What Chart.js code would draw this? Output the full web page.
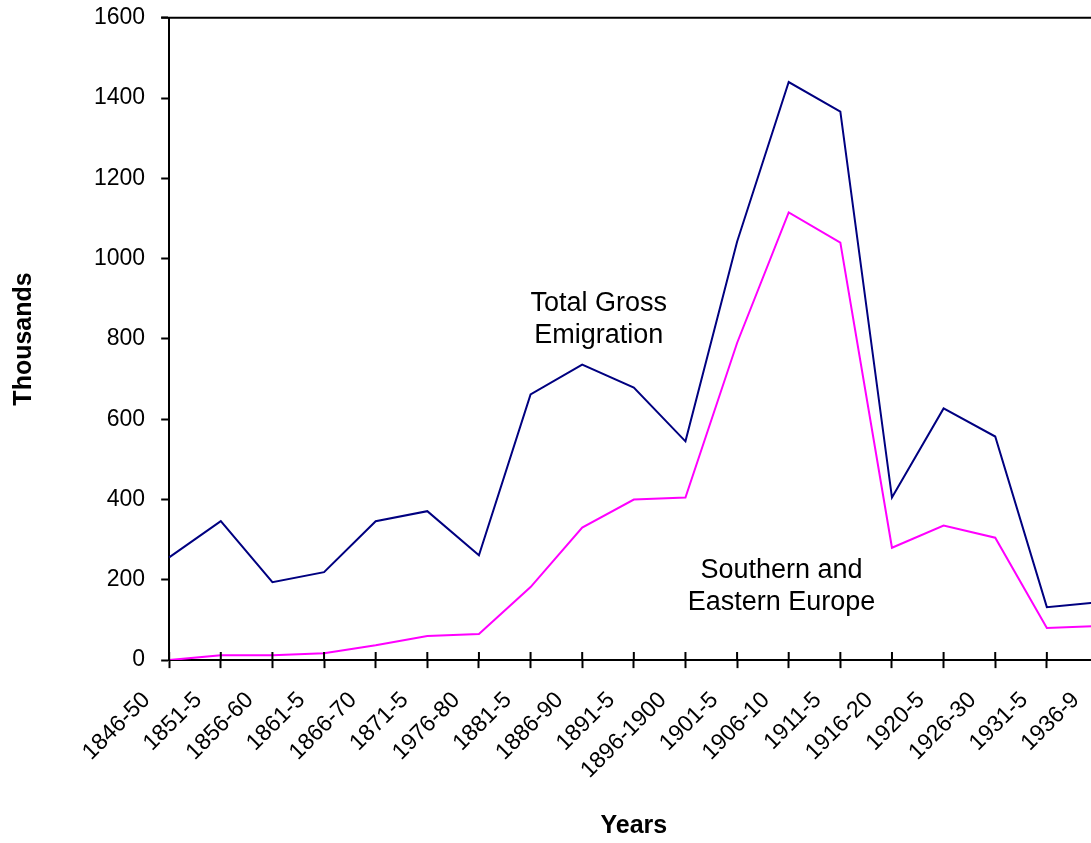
<!DOCTYPE html>
<html>
<head>
<meta charset="utf-8">
<script src="https://cdn.jsdelivr.net/npm/chart.js@4.4.0/dist/chart.umd.min.js"></script>
<style>
  html, body { margin: 0; padding: 0; background: #fff; overflow: hidden; }
  #wrap { width: 1114px; height: 855px; margin-top: -12px; }
</style>
</head>
<body>
<div id="wrap"><canvas id="emigration"></canvas></div>
<script>
// Emigration by period (thousands)
const years = ['1846-50', '1851-5', '1856-60', '1861-5', '1866-70', '1871-5', '1976-80', '1881-5',
    '1886-90', '1891-5', '1896-1900', '1901-5', '1906-10', '1911-5', '1916-20', '1920-5',
    '1926-30', '1931-5', '1936-9'];
const totalGross = [256, 346, 194, 219, 346, 371, 261, 662, 736, 679, 545, 1042, 1440, 1366, 405, 627, 557, 132, 144];
const southEast = [0, 12, 12, 17, 37, 60, 65, 182, 330, 400, 405, 790, 1115, 1040, 280, 335, 305, 80, 85];

// text labels placed in data units (x = category index, y = thousands)
const notes = [
    { text: ['Total Gross', 'Emigration'], x: 8.32, y: 888 },
    { text: ['Southern and', 'Eastern Europe'], x: 11.86, y: 224 }
];

const font = 'Liberation Sans, Arial, sans-serif';

// extra drawing: top frame line, inward half of the x tick marks, the text notes
const extras = {
    id: 'extras',
    afterDraw(chart) {
        const ctx = chart.ctx;
        const area = chart.chartArea;
        const xs = chart.scales.x;
        const ys = chart.scales.y;
        ctx.save();
        ctx.strokeStyle = '#000';
        ctx.lineWidth = 2;
        ctx.beginPath();
        ctx.moveTo(area.left - 8, area.top);
        ctx.lineTo(area.right, area.top);
        for (let i = 0; i < years.length; i++) {
            const px = xs.getPixelForTick(i);
            ctx.moveTo(px, area.bottom);
            ctx.lineTo(px, area.bottom - 8);
        }
        ctx.stroke();

        ctx.fillStyle = '#000';
        ctx.font = '27px ' + font;
        ctx.textAlign = 'center';
        ctx.textBaseline = 'middle';
        notes.forEach(n => {
            const px = xs.getPixelForValue(n.x);
            const py = ys.getPixelForValue(n.y);
            n.text.forEach((line, k) => ctx.fillText(line, px, py + k * 32));
        });
        ctx.restore();
    }
};

new Chart(document.getElementById('emigration'), {
    type: 'line',
    data: {
        labels: years,
        datasets: [{
            label: 'Total Gross Emigration',
            data: totalGross,
            borderColor: '#000080',
            borderWidth: 2,
            pointRadius: 0,
            tension: 0
        }, {
            label: 'Southern and Eastern Europe',
            data: southEast,
            borderColor: '#FF00FF',
            borderWidth: 2,
            pointRadius: 0,
            tension: 0
        }]
    },
    options: {
        responsive: true,
        maintainAspectRatio: false,
        animation: false,
        layout: {
            padding: { top: 0, right: 0, bottom: 0, left: 9 }
        },
        plugins: {
            legend: { display: false },
            tooltip: { enabled: false }
        },
        scales: {
            x: {
                offset: false,
                grid: {
                    drawOnChartArea: false,
                    tickLength: 8,
                    tickWidth: 2,
                    tickColor: '#000'
                },
                border: { color: '#000', width: 2 },
                ticks: {
                    color: '#000',
                    font: { family: font, size: 23 },
                    minRotation: 45,
                    maxRotation: 45,
                    autoSkip: false,
                    padding: -4,
                    // trailing spaces push the rotated text down-left of its tick
                    callback: function (v) { return this.getLabelForValue(v) + '     '; }
                },
                title: {
                    display: true,
                    text: 'Years',
                    color: '#000',
                    font: { family: font, size: 25, weight: 'bold' },
                    padding: { top: 31, bottom: 2 }
                }
            },
            y: {
                min: 0,
                max: 1600,
                grid: {
                    drawOnChartArea: false,
                    tickLength: 8,
                    tickWidth: 2,
                    tickColor: '#000'
                },
                border: { color: '#000', width: 2 },
                ticks: {
                    stepSize: 200,
                    color: '#000',
                    font: { family: font, size: 23 },
                    padding: 16,
                    callback: v => String(v)
                },
                title: {
                    display: true,
                    text: 'Thousands',
                    color: '#000',
                    font: { family: font, size: 25, weight: 'bold' },
                    padding: { top: 0, bottom: 39 }
                }
            }
        }
    },
    plugins: [extras]
});
</script>
</body>
</html>
